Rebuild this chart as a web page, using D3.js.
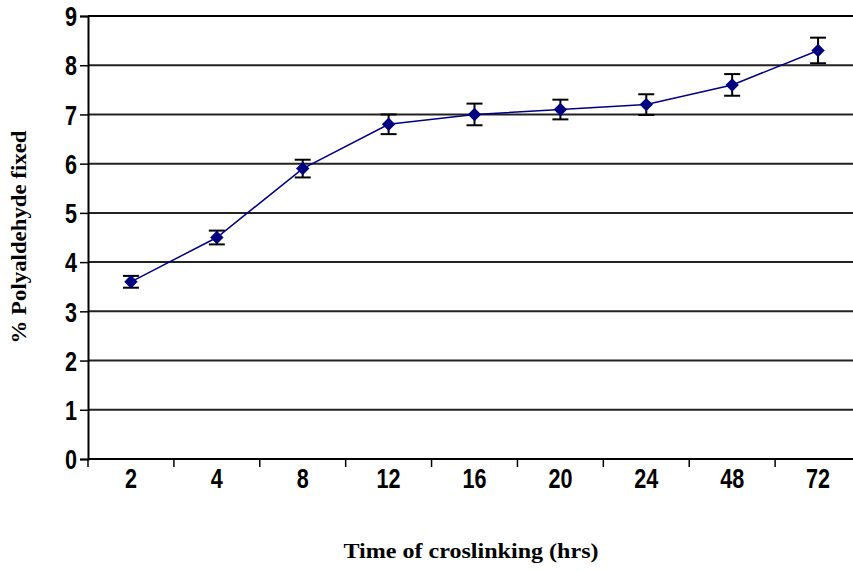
<!DOCTYPE html>
<html>
<head>
<meta charset="utf-8">
<script src="https://cdn.jsdelivr.net/npm/d3@7"></script>
<style>
  body { margin: 0; background: #fff; }
  svg { display: block; }
</style>
</head>
<body>
<svg id="chart" width="853" height="571"></svg>
<script>
// values
var hours = ["2", "4", "8", "12", "16", "20", "24", "48", "72"];
var fixed = [3.6, 4.5, 5.9, 6.8, 7.0, 7.1, 7.2, 7.6, 8.3];
var errs = [0.12, 0.14, 0.18, 0.2, 0.22, 0.2, 0.21, 0.22, 0.26];
var yTicks = [0, 1, 2, 3, 4, 5, 6, 7, 8, 9];

var svg = d3.select("#chart");
var pLeft = 88, pRight = 861, pTop = 16, pBottom = 459;
var squeeze = 0.8;   // tick labels in the picture are tall and narrow

var x = d3.scaleBand().domain(hours).range([pLeft, pRight]);
var y = d3.scaleLinear().domain([0, 9]).range([pBottom, pTop]);

// grid lines
svg.selectAll("line.grid")
    .data(yTicks.slice(1))
    .enter().append("line")
    .attr("class", "grid")
    .attr("x1", pLeft).attr("x2", pRight)
    .attr("y1", function(d){ return y(d); })
    .attr("y2", function(d){ return y(d); })
    .attr("stroke", function(d){ return d == 9 ? "#000" : "#222"; })
    .attr("stroke-width", 2);

// y axis
var yAxis = svg.append("g")
    .attr("transform", "translate(" + pLeft + ",0)")
    .call(d3.axisLeft(y).tickValues(yTicks).tickSize(8).tickPadding(3));
yAxis.select(".domain").attr("stroke", "#000").attr("stroke-width", 2);
yAxis.selectAll(".tick line").attr("stroke", "#000").attr("stroke-width", 1.5);
yAxis.selectAll("text")
    .attr("x", null)
    .attr("dy", "0.36em")
    .attr("transform", "translate(-11,0) scale(" + squeeze + ",1)")
    .attr("font-family", "Liberation Sans, Arial, sans-serif")
    .attr("font-weight", "bold")
    .attr("font-size", 27)
    .attr("fill", "#000");

// x axis: ticks sit between categories
var xAxis = svg.append("g")
    .attr("transform", "translate(0," + pBottom + ")");
xAxis.append("line")
    .attr("x1", pLeft).attr("x2", pRight)
    .attr("stroke", "#000").attr("stroke-width", 2);
xAxis.selectAll("line.tk")
    .data(hours)
    .enter().append("line")
    .attr("class", "tk")
    .attr("x1", function(d){ return x(d); })
    .attr("x2", function(d){ return x(d); })
    .attr("y1", 0).attr("y2", 8)
    .attr("stroke", "#000").attr("stroke-width", 1.5);
xAxis.selectAll("text")
    .data(hours)
    .enter().append("text")
    .attr("transform", function(d){
        return "translate(" + (x(d) + x.bandwidth() / 2) + ",29) scale(" + squeeze + ",1)";
    })
    .attr("text-anchor", "middle")
    .attr("font-family", "Liberation Sans, Arial, sans-serif")
    .attr("font-weight", "bold")
    .attr("font-size", 27)
    .text(function(d){ return d; });

var cx = function(i){ return x(hours[i]) + x.bandwidth() / 2; };

// series line
var line = d3.line()
    .x(function(d, i){ return cx(i); })
    .y(function(d){ return y(d); });
svg.append("path")
    .datum(fixed)
    .attr("d", line)
    .attr("fill", "none")
    .attr("stroke", "#000080")
    .attr("stroke-width", 1.5);

// error bars
var eb = svg.selectAll("g.err")
    .data(fixed)
    .enter().append("g")
    .attr("class", "err");
eb.append("line")
    .attr("x1", function(d, i){ return cx(i); })
    .attr("x2", function(d, i){ return cx(i); })
    .attr("y1", function(d, i){ return y(d + errs[i]); })
    .attr("y2", function(d, i){ return y(d - errs[i]); })
    .attr("stroke", "#000").attr("stroke-width", 2);
[1, -1].forEach(function(s){
    eb.append("line")
        .attr("x1", function(d, i){ return cx(i) - 8; })
        .attr("x2", function(d, i){ return cx(i) + 8; })
        .attr("y1", function(d, i){ return y(d + s * errs[i]); })
        .attr("y2", function(d, i){ return y(d + s * errs[i]); })
        .attr("stroke", "#000").attr("stroke-width", 2);
});

// diamond markers
svg.selectAll("path.pt")
    .data(fixed)
    .enter().append("path")
    .attr("class", "pt")
    .attr("d", d3.symbol().type(d3.symbolDiamond2).size(115))
    .attr("transform", function(d, i){ return "translate(" + cx(i) + "," + y(d) + ")"; })
    .attr("fill", "#000080");

// axis titles
svg.append("text")
    .attr("x", 471).attr("y", 558)
    .attr("text-anchor", "middle")
    .attr("font-family", "Liberation Serif, Times New Roman, serif")
    .attr("font-weight", "bold")
    .attr("font-size", 21)
    .attr("textLength", 255)
    .attr("lengthAdjust", "spacingAndGlyphs")
    .text("Time of croslinking (hrs)");

svg.append("text")
    .attr("transform", "translate(26,237) rotate(-90)")
    .attr("text-anchor", "middle")
    .attr("font-family", "Liberation Serif, Times New Roman, serif")
    .attr("font-weight", "bold")
    .attr("font-size", 20)
    .attr("textLength", 213)
    .attr("lengthAdjust", "spacingAndGlyphs")
    .text("% Polyaldehyde fixed");
</script>
</body>
</html>
